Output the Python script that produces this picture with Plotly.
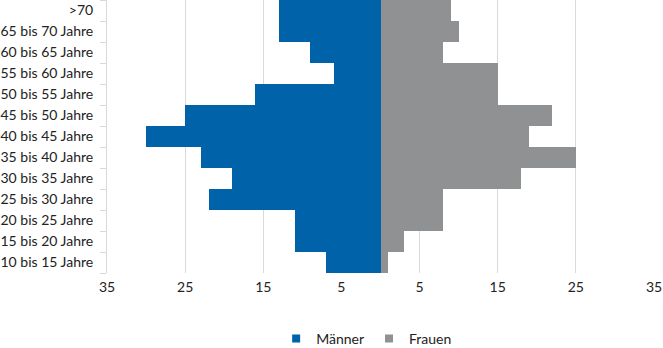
import plotly.graph_objects as go

categories = ["10 bis 15 Jahre", "15 bis 20 Jahre", "20 bis 25 Jahre", "25 bis 30 Jahre",
              "30 bis 35 Jahre", "35 bis 40 Jahre", "40 bis 45 Jahre", "45 bis 50 Jahre",
              "50 bis 55 Jahre", "55 bis 60 Jahre", "60 bis 65 Jahre", "65 bis 70 Jahre", ">70"]
maenner = [7, 11, 11, 22, 19, 23, 30, 25, 16, 6, 9, 13, 13]
frauen = [1, 3, 8, 8, 18, 25, 19, 22, 15, 15, 8, 10, 9]
tick_vals = [-35, -25, -15, -5, 5, 15, 25, 35]
tick_text = ["35", "25", "15", "5", "5", "15", "25", "35"]

BLUE = "#0063AA"
GREY = "#8F9192"
FONT = "Lato"

fig = go.Figure()
fig.add_trace(go.Bar(y=categories, x=[-v for v in maenner], orientation="h",
                     name="Männer", showlegend=False,
                     marker=dict(color=BLUE, line=dict(width=0))))
fig.add_trace(go.Bar(y=categories, x=frauen, orientation="h",
                     name="Frauen", showlegend=False,
                     marker=dict(color=GREY, line=dict(width=0))))
# legend entries with small square markers
for name, col in (("Männer", BLUE), ("Frauen", GREY)):
    fig.add_trace(go.Scatter(x=[None], y=[None], mode="markers", name=name,
                             marker=dict(symbol="square", size=8, color=col)))

fig.update_layout(
    width=663, height=348,
    margin=dict(l=107, r=9, t=0, b=75),
    barmode="relative", bargap=0,
    plot_bgcolor="white", paper_bgcolor="white",
    font=dict(family=FONT, size=14, color="#222222"),
    showlegend=True,
    legend=dict(orientation="h", x=0.553, xanchor="center", xref="container",
                y=0.026, yanchor="middle", yref="container",
                font=dict(size=14), itemwidth=30, traceorder="normal"),
    xaxis=dict(range=[-35, 35], tickvals=tick_vals, ticktext=tick_text,
               showgrid=True, gridcolor="#D9D9D9", gridwidth=1, zeroline=False,
               showline=False, ticks="", ticklabelstandoff=4, fixedrange=True),
    yaxis=dict(type="category", categoryorder="array", categoryarray=categories,
               showgrid=False, showline=True, linecolor="#D9D9D9", linewidth=1,
               ticks="outside", tickson="boundaries", ticklen=6, tickcolor="#D9D9D9",
               ticklabelstandoff=10, zeroline=False),
)

fig.write_html("out.html")
